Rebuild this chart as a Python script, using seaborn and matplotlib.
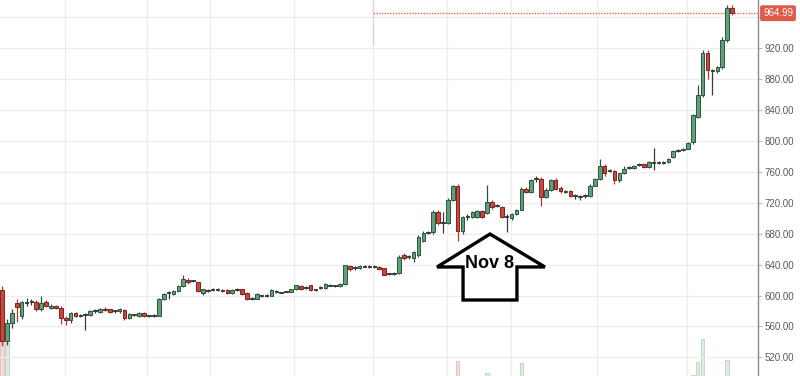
import numpy as np
import pandas as pd
import matplotlib
matplotlib.use("Agg")
import matplotlib.pyplot as plt
import matplotlib.transforms as mtransforms
from matplotlib.patches import Polygon
from matplotlib.colors import to_rgb
import seaborn as sns

sns.set_style("white")
plt.rcParams["font.family"] = ["Liberation Sans", "DejaVu Sans"]

# ---------------- data (daily candles) ----------------
open_ = [607, 541, 565, 590, 574, 591, 592, 592, 582, 592,
         584, 587, 584, 571, 568, 577, 574, 575, 575, 580,
         579, 583, 582, 580, 580, 581, 571, 575, 573, 578,
         574, 574, 574, 596, 604, 602, 606, 612, 620, 619,
         617, 603, 607, 608, 608, 606, 607, 603, 608, 608,
         603, 596, 596, 600, 600, 600, 605, 604, 605, 605,
         608, 612, 611, 613, 608, 610, 610, 613, 613, 612,
         615, 638, 636, 635, 638, 638, 638, 637, 635, 628,
         629, 629, 652, 650, 648, 652, 671, 682, 682, 708,
         695, 694, 724, 742, 683, 702, 702, 702, 709, 707,
         721, 716, 714, 702, 700, 706, 711, 738, 734, 751,
         751, 728, 737, 749, 739, 735, 735, 729, 728, 729,
         729, 742, 750, 768, 762, 761, 749, 758, 765, 765,
         769, 770, 766, 772, 772, 772, 772, 779, 788, 788,
         790, 798, 831, 859, 913, 891, 890, 895, 930, 972]
high = [612, 570, 583, 596, 593, 597, 595, 594, 600, 594,
        589, 588, 586, 573, 579, 579, 576, 577, 581, 582,
        584, 585, 583, 581, 584, 582, 577, 576, 579, 579,
        575, 576, 597, 603, 606, 607, 613, 626, 623, 620,
        618, 609, 609, 610, 610, 608, 609, 608, 610, 609,
        604, 598, 603, 601, 602, 609, 607, 605, 606, 609,
        614, 614, 612, 614, 609, 612, 616, 615, 614, 616,
        640, 639, 638, 639, 640, 640, 639, 638, 636, 629,
        631, 652, 655, 652, 657, 678, 683, 684, 710, 710,
        708, 726, 743, 744, 703, 706, 709, 710, 710, 743,
        723, 718, 716, 705, 707, 712, 740, 740, 751, 754,
        753, 739, 751, 752, 741, 737, 736, 731, 730, 731,
        744, 752, 777, 770, 763, 762, 759, 768, 767, 769,
        771, 771, 774, 791, 774, 774, 778, 788, 790, 791,
        798, 835, 872, 917, 917, 893, 897, 934, 975, 976]
low = [535, 536, 558, 566, 570, 586, 588, 580, 580, 585,
       583, 582, 563, 562, 565, 572, 572, 555, 574, 578,
       578, 580, 578, 578, 578, 568, 570, 573, 572, 572,
       572, 572, 573, 594, 596, 601, 605, 611, 615, 617,
       604, 601, 605, 606, 606, 604, 602, 602, 606, 601,
       594, 594, 595, 598, 598, 599, 603, 603, 604, 604,
       607, 607, 609, 606, 606, 608, 609, 612, 611, 611,
       614, 632, 633, 634, 637, 636, 636, 633, 626, 626,
       627, 628, 646, 647, 643, 650, 669, 680, 680, 691,
       681, 692, 722, 670, 680, 698, 700, 700, 700, 705,
       712, 714, 700, 682, 698, 704, 710, 732, 733, 747,
       716, 726, 735, 736, 733, 733, 727, 725, 724, 726,
       728, 741, 749, 755, 760, 744, 747, 757, 763, 764,
       767, 765, 765, 762, 770, 770, 771, 778, 786, 787,
       789, 796, 829, 857, 880, 859, 888, 893, 928, 963]
close = [541, 565, 578, 585, 591, 591, 592, 582, 590, 587,
         586, 584, 571, 568, 577, 573, 574, 575, 580, 580,
         583, 581, 579, 580, 583, 571, 576, 575, 578, 573,
         574, 574, 596, 602, 604, 606, 612, 621, 617, 619,
         606, 608, 607, 608, 608, 606, 603, 607, 608, 602,
         595, 596, 602, 600, 600, 607, 605, 604, 605, 608,
         613, 608, 611, 607, 608, 610, 615, 613, 613, 615,
         639, 634, 636, 638, 638, 638, 638, 634, 627, 628,
         629, 650, 648, 650, 656, 676, 681, 682, 708, 694,
         695, 724, 741, 684, 702, 702, 708, 709, 702, 721,
         714, 716, 702, 702, 706, 711, 738, 734, 749, 751,
         728, 737, 749, 738, 735, 735, 729, 729, 728, 729,
         742, 750, 768, 759, 762, 749, 758, 763, 765, 768,
         769, 766, 773, 772, 772, 772, 777, 787, 788, 790,
         797, 833, 859, 913, 891, 891, 895, 930, 972, 964.99]
volume = [77, 76.5, 50, 45, 42, 38, 35, 40, 44, 36,
          34, 33, 45, 40, 38, 32, 30, 42, 35, 30,
          31, 29, 30, 28, 32, 40, 34, 28, 30, 31,
          27, 28, 48, 45, 36, 33, 40, 50, 38, 30,
          42, 33, 28, 27, 26, 29, 31, 30, 27, 33,
          38, 30, 34, 26, 25, 33, 28, 26, 25, 30,
          33, 32, 27, 34, 29, 27, 31, 26, 25, 30,
          55, 40, 32, 30, 28, 27, 26, 33, 40, 31,
          29, 52, 38, 30, 40, 50, 44, 32, 55, 48,
          46, 50, 56, 67.5, 54, 38, 36, 37, 40, 61.5,
          45, 36, 44, 50, 40, 42, 66.5, 40, 48, 38,
          52, 42, 46, 40, 36, 32, 34, 31, 30, 32,
          42, 40, 58, 45, 33, 44, 40, 36, 32, 31,
          30, 34, 38, 50, 29, 28, 34, 44, 35, 38,
          45, 60.5, 67, 78.5, 58, 55, 42, 59, 68, 40]
price_ticks = [520, 560, 600, 640, 680, 720, 760, 800, 840, 880, 920, 960]
last_label = "964.99"
annotation_text = "Nov 8"

# ---------------- frame ----------------
df = pd.DataFrame({"day": np.arange(len(open_)), "open": open_, "high": high,
                   "low": low, "close": close, "volume": volume})
df["dir"] = np.where(df["close"] >= df["open"], "up", "down")

fig = plt.figure(figsize=(8, 3.76), dpi=100)
ax = fig.add_axes([0, 0, 757.5 / 800, 1])
ax2 = ax.twinx()
ax.set_zorder(2)
ax.patch.set_visible(False)

# volume bars (background, mostly below the visible window)
sns.barplot(data=df, x="day", y="volume", hue="dir",
            palette={"up": "#d9eedd", "down": "#f7d9d9"},
            native_scale=True, dodge=False, width=0.72, legend=False,
            errorbar=None, saturation=1, ax=ax2)
for p in ax2.patches:
    r, g, b = to_rgb(p.get_facecolor())
    p.set_edgecolor((r * 0.88, g * 0.88, b * 0.88))
    p.set_linewidth(0.6)
ax2.set_ylim(60, 248)
ax2.set_axis_off()

# candles
o = df["open"].to_numpy(float)
c = df["close"].to_numpy(float)
h = df["high"].to_numpy(float)
l = df["low"].to_numpy(float)
x = df["day"].to_numpy(float)
body = np.abs(c - o)
doji = body < 1
up = c > o
face = np.where(doji, "#3a3a3a", np.where(up, "#5fa07b", "#c9473e"))
edge = np.where(doji, "#3a3a3a", np.where(up, "#2c5640", "#7a2520"))
wick = np.where(doji, "#3a3a3a", np.where(up, "#334d3f", "#b03a32"))

ax.vlines(x, l, h, colors=wick, lw=0.9, zorder=3)
ax.bar(x, np.where(doji, 1.3, body), bottom=np.where(doji, o - 0.65, np.minimum(o, c)),
       width=0.74, color=face, edgecolor=edge, linewidth=0.7, zorder=4)

# grid
grid_col = "#ededed"
ax.set_yticks(price_ticks)
ax.set_yticklabels(["" if v == 960 else f"{v:.2f}" for v in price_ticks])
ax.grid(axis="y", color=grid_col, lw=1)
ax.set_axisbelow(True)
for gx in [12.86, 29.6, 42.4, 59.6, 75.7, 90.8, 103.9, 121.4, 139.8]:
    ax.axvline(gx, color=grid_col, lw=1, zorder=0)
ax.vlines(75.7, 924, 982.06, colors="#dadada", lw=1, zorder=1)

ax.set_xlim(-0.41, 154.2)
ax.set_ylim(495.95, 982.06)

# axis styling
ax.yaxis.tick_right()
ax.tick_params(axis="y", direction="out", length=3, width=0.8, color="#bbbbbb",
               labelsize=7, labelcolor="#5a5a5a", pad=2)
ax.tick_params(axis="x", bottom=False, labelbottom=False)
for s in ["left", "top", "bottom"]:
    ax.spines[s].set_visible(False)
ax.spines["right"].set_color("#8a8a8a")
ax.spines["right"].set_linewidth(1)

# last price line and tag
last = c[-1]
ax.hlines(last, 75.7, 154.2, colors="#e06a4f", linestyles=(0, (1, 1)), lw=1.0, zorder=2)
trans = mtransforms.blended_transform_factory(ax.transAxes, ax.transData)
ax.text(1.0 + 5.5 / 757.5, last, last_label, transform=trans, ha="left", va="center",
        fontsize=7, color="white", clip_on=False, zorder=10,
        bbox=dict(boxstyle="round,pad=0.3,rounding_size=0.2", fc="#de5b49", ec="none"))

# "Nov 8" arrow
arrow_pts = [(99.6, 679.5), (110.8, 636.9), (105.1, 636.9), (105.1, 594.2),
             (94.1, 594.2), (94.1, 636.9), (88.8, 636.9)]
ax.add_patch(Polygon(arrow_pts, closed=True, fc="white", ec="black", lw=2.4,
                     joinstyle="miter", zorder=6))
ax.text(99.4, 642, annotation_text, ha="center", va="center", fontsize=13,
        fontweight="bold", color="black", zorder=7)

fig.savefig("out.png", dpi=100)
